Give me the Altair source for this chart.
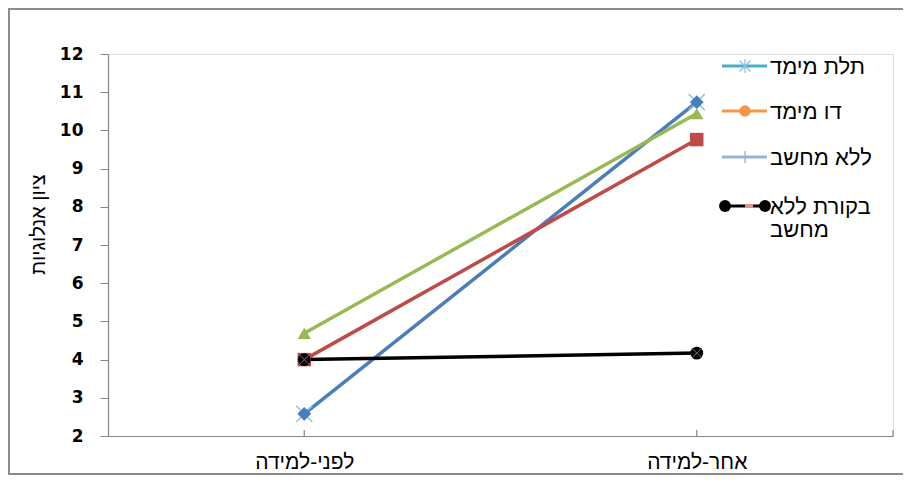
import altair as alt
import pandas as pd

# ---- data ----
stages = ["לפני-למידה", "אחר-למידה"]
series_names = ["תלת מימד", "דו מימד", "ללא מחשב", "בקורת ללא מחשב"]
blue_vals = [2.58, 10.74]
red_vals = [4.0, 9.76]
green_vals = [4.69, 10.44]
black_vals = [4.0, 4.17]
y_ticks = [2, 3, 4, 5, 6, 7, 8, 9, 10, 11, 12]

# legend (as drawn in the original picture)
legend_text_rows = [["תלת מימד"], ["דו מימד"], ["ללא מחשב"], ["בקורת ללא", "מחשב"]]
legend_line_colors = ["#4BACC6", "#F79646", "#95B3D7", "#000000"]

rows = []
for name, vals in zip(series_names, [blue_vals, red_vals, green_vals, black_vals]):
    for s, v in zip(stages, vals):
        rows.append({"series": name, "stage": s, "score": v})
df = pd.DataFrame(rows)

line_colors = ["#4A7EBB", "#BE4B48", "#98B954", "#000000"]
shapes = ["diamond", "square", "triangle-up", "circle"]
sizes = [190, 165, 190, 140]

W, H = 785, 382
PAD_B = 39
HEB = "Liberation Sans"

x_enc = alt.X(
    "stage:N", sort=stages, title=None,
    scale=alt.Scale(type="point", padding=0.5),
    axis=alt.Axis(labelAngle=0, tickSize=0, labelPadding=32, labelBaseline="alphabetic",
                  labelFont=HEB, labelFontSize=21, labelColor="#000000",
                  domainColor="#868686", domainWidth=1.2, grid=False),
)
y_enc = alt.Y(
    "score:Q",
    scale=alt.Scale(domain=[2, 12], nice=False, zero=False),
    axis=alt.Axis(values=y_ticks, tickSize=8, labelPadding=17, labelFont="DejaVu Sans",
                  labelFontWeight="bold", labelFontSize=17, labelColor="#000000",
                  domainColor="#868686", tickColor="#868686", domainWidth=1.2, grid=False,
                  title="ציון אנלוגיות", titleFont=HEB, titleFontSize=20,
                  titleFontWeight="normal", titleColor="#000000", titleAngle=270,
                  titleX=-70, titleY=170, titleAlign="center", titleBaseline="middle"),
)
color_enc = alt.Color("series:N", scale=alt.Scale(domain=series_names, range=line_colors), legend=None)

one = pd.DataFrame({"a": [0]})

frame = alt.Chart(one).mark_rect(fillOpacity=0, stroke="#8C8C8C", strokeWidth=2).encode(
    x=alt.value(-99), x2=alt.value(W + 40), y=alt.value(-45), y2=alt.value(H + PAD_B - 1)
)

lines = alt.Chart(df).mark_line(strokeWidth=3.5).encode(x=x_enc, y=y_enc, color=color_enc)

cross_path = "M-1,-1L1,1M-1,1L1,-1"
blue_cross = alt.Chart(df).transform_filter(
    alt.datum.series == series_names[0]
).mark_point(shape=cross_path, filled=False, strokeWidth=1.5, size=260, opacity=1,
             color="#8FC3E0").encode(x=x_enc, y=y_enc)

points = alt.Chart(df).mark_point(filled=True, opacity=1).encode(
    x=x_enc, y=y_enc, color=color_enc,
    shape=alt.Shape("series:N", scale=alt.Scale(domain=series_names, range=shapes), legend=None),
    size=alt.Size("series:O", sort=series_names,
                  scale=alt.Scale(domain=series_names, range=sizes), legend=None),
)

black_cross = alt.Chart(df).transform_filter(
    alt.datum.series == series_names[3]
).mark_point(shape=cross_path, filled=False, strokeWidth=1, size=110, opacity=1,
             color="#7A6A9C").encode(x=x_enc, y=y_enc)

x_ticks = alt.Chart(pd.DataFrame({"stage": stages})).mark_rule(color="#868686", strokeWidth=1.2).encode(
    x=alt.X("stage:N", sort=stages), y=alt.value(H - 6), y2=alt.value(H)
)
end_tick = alt.Chart(one).mark_rule(color="#868686", strokeWidth=1.2).encode(
    x=alt.value(W), y=alt.value(H - 6), y2=alt.value(H)
)

# ---- legend ----
leg_rows_y = [12, 57, 103, 152]
leg_layers = []
for i, (txts, col) in enumerate(zip(legend_text_rows, legend_line_colors)):
    yy = leg_rows_y[i]
    leg_layers.append(alt.Chart(one).mark_rule(color=col, strokeWidth=3).encode(
        x=alt.value(614), x2=alt.value(659), y=alt.value(yy)))
    for j, t in enumerate(txts):
        leg_layers.append(alt.Chart(one).mark_text(
            text=t, align="left", baseline="middle", font=HEB, fontSize=22, color="#000000"
        ).encode(x=alt.value(662), y=alt.value(yy + 1 + 23 * j)))

mx = 637
leg_layers.append(alt.Chart(one).mark_point(
    shape="M-1,-1L1,1M-1,1L1,-1M0,-1.3L0,1.3", filled=False, strokeWidth=1.3, size=120,
    color="#8FC3E0", opacity=1).encode(x=alt.value(mx), y=alt.value(leg_rows_y[0])))
leg_layers.append(alt.Chart(one).mark_point(
    shape="circle", filled=True, size=130, color="#F79646", opacity=1
).encode(x=alt.value(mx), y=alt.value(leg_rows_y[1])))
leg_layers.append(alt.Chart(one).mark_point(
    shape="M-1,0L1,0M0,-1L0,1", filled=False, strokeWidth=1.3, size=150,
    color="#95B3D7", opacity=1).encode(x=alt.value(mx), y=alt.value(leg_rows_y[2])))
for cx in [617, 657]:
    leg_layers.append(alt.Chart(one).mark_point(
        shape="circle", filled=True, size=140, color="#000000", opacity=1
    ).encode(x=alt.value(cx), y=alt.value(leg_rows_y[3])))
leg_layers.append(alt.Chart(one).mark_rule(color="#D99694", strokeWidth=4).encode(
    x=alt.value(637), x2=alt.value(645), y=alt.value(leg_rows_y[3])))

chart = alt.layer(
    frame, lines, blue_cross, points, black_cross, x_ticks, end_tick, *leg_layers
).properties(
    width=W, height=H,
    padding={"left": 100, "top": 46, "right": 10, "bottom": PAD_B},
    autosize=alt.AutoSizeParams(type="none"),
).configure_view(strokeOpacity=0).configure(background="#ffffff")

chart.save("out.html", embed_options={"renderer": "svg", "actions": False})
